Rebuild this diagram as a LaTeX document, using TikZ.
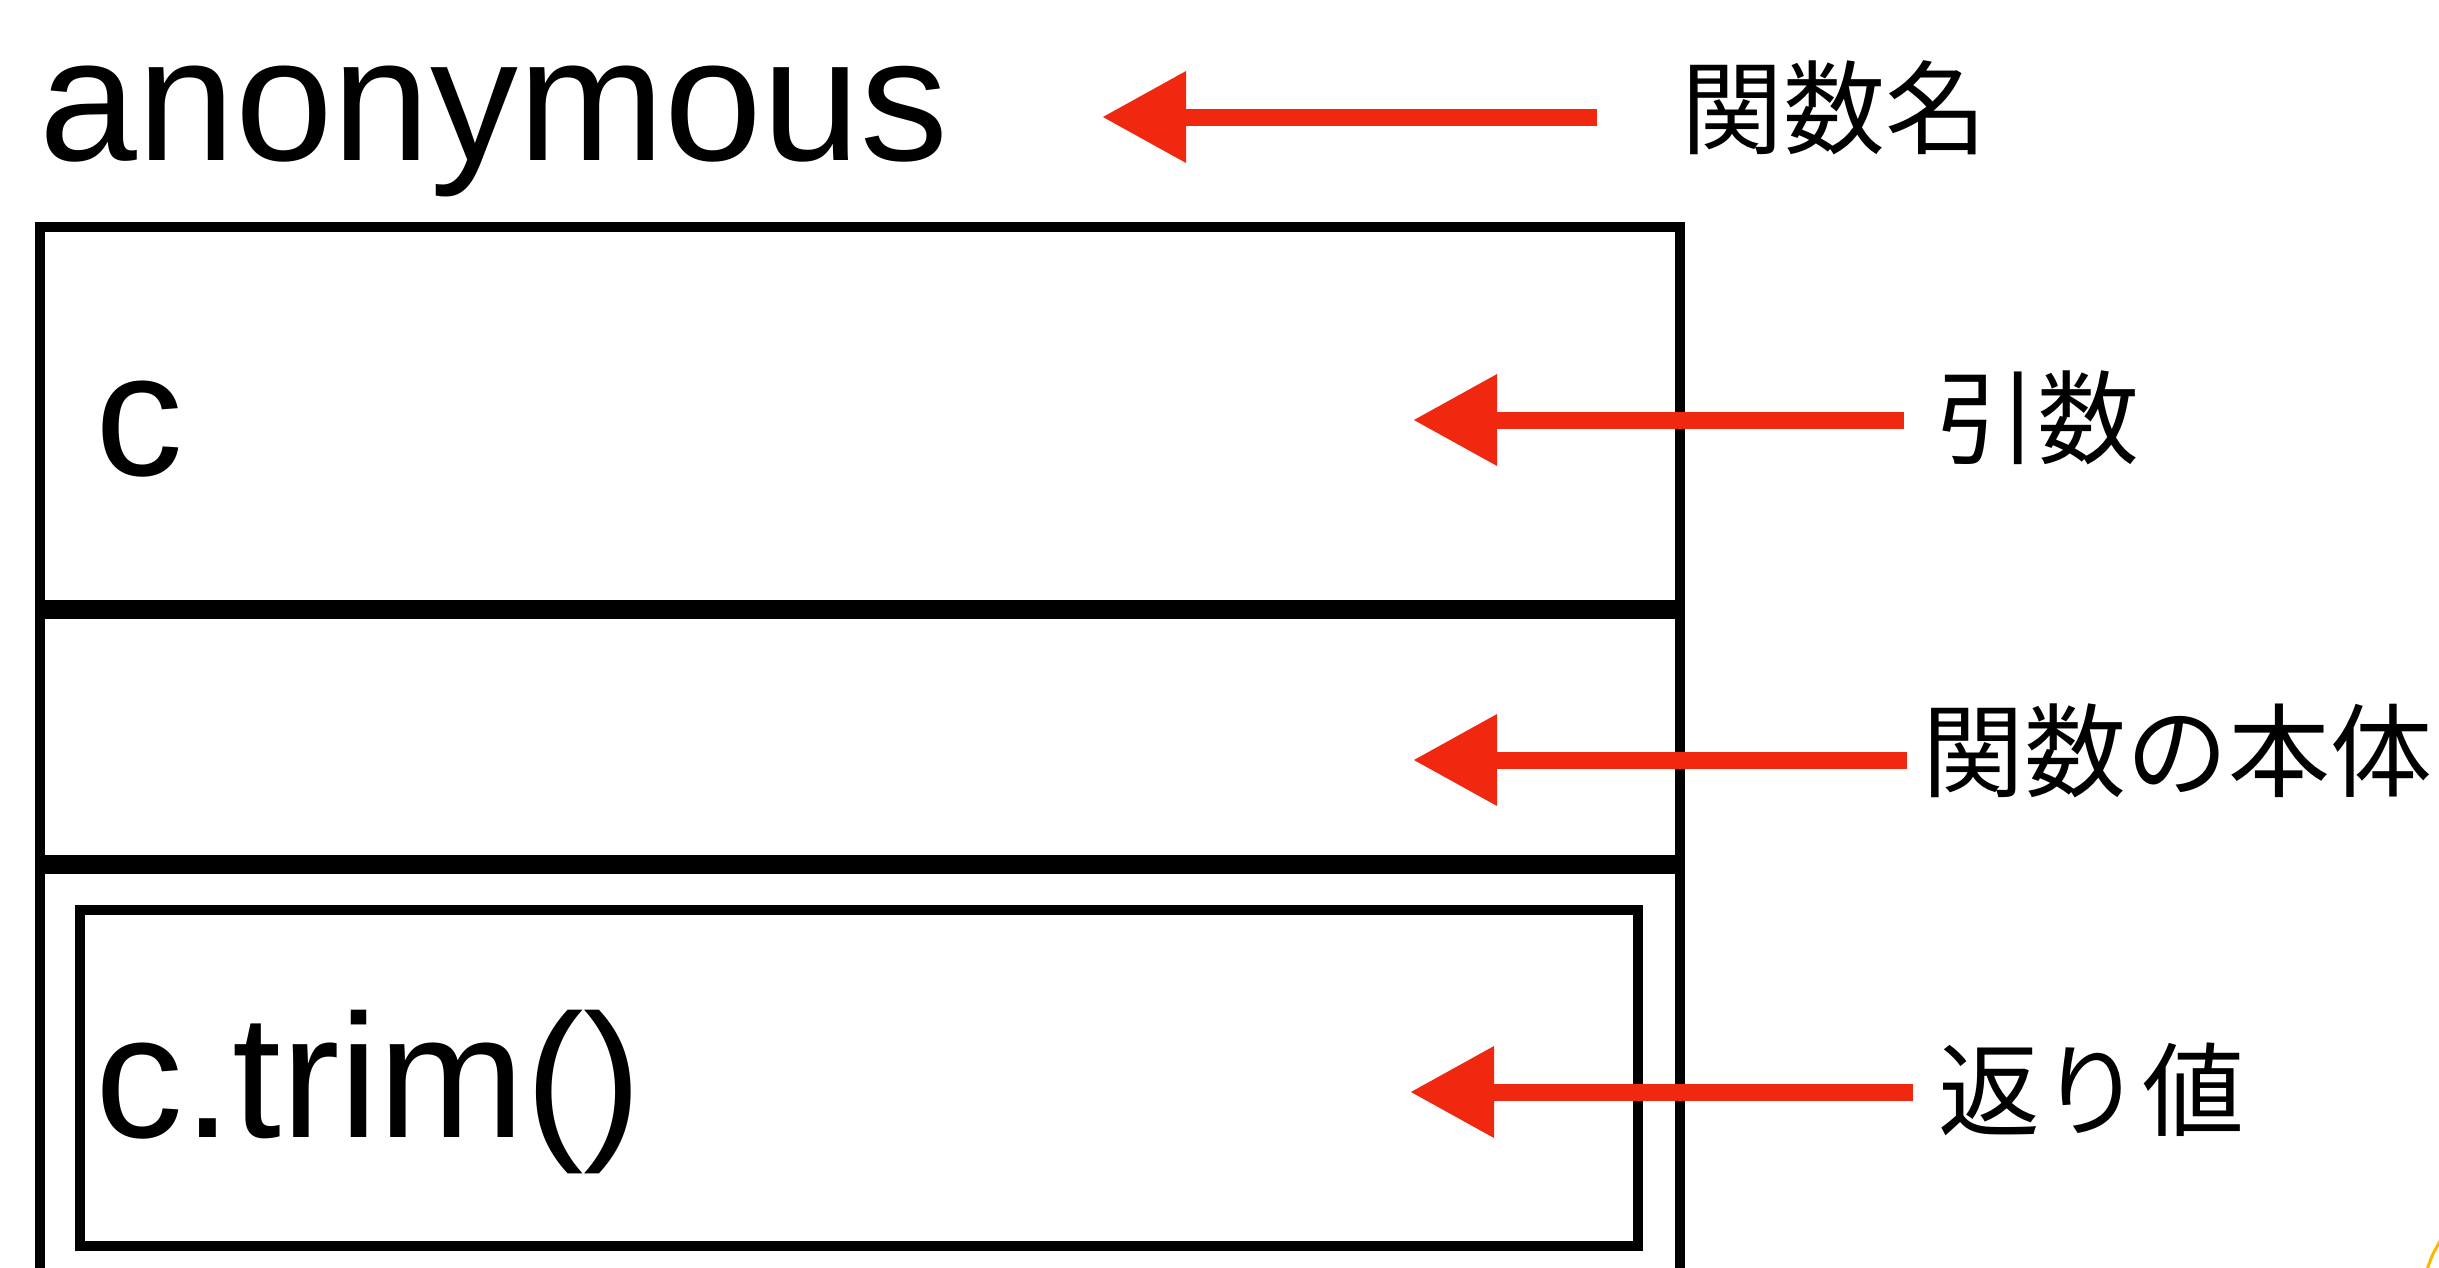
\documentclass[tikz,border=0pt]{standalone}
\usepackage{fontspec}
\setmainfont{Liberation Sans}
\newfontfamily\jpfont{Noto Sans CJK JP}
\usetikzlibrary{arrows.meta,positioning}
\definecolor{arrowred}{RGB}{240,40,16}
\definecolor{markyellow}{RGB}{250,185,0}

\begin{document}
\begin{tikzpicture}[
        codetext/.style={font=\fontsize{50}{60}\selectfont,inner sep=0,anchor=base west},
        jptag/.style={font=\jpfont\fontsize{29}{34}\selectfont,inner sep=0,anchor=west},
        ptr/.style={draw=arrowred,line width=.17cm,-{Triangle[length=.84cm,width=.87cm]}}
    ]
            \useasboundingbox (0,0) rectangle (24.39,-12.67);
            \clip (0,0) rectangle (24.39,-12.67);
            % frame of the function
            \draw[line width=.1cm,line join=miter] (.40,-13) -- (.40,-2.27) -- (16.80,-2.27) -- (16.80,-13);
            \draw[line width=.19cm] (.40,-6.09) -- (16.80,-6.09);
            \draw[line width=.19cm] (.40,-8.64) -- (16.80,-8.64);
            \draw[line width=.1cm] (.795,-9.095) rectangle (16.375,-12.455);
            % texts
            \node[codetext] at (.39,-1.60)(fname){anonymous};
            \node[codetext] at (.95,-4.75)(param){c};
            \node[codetext] at (.95,-11.37)(ret){c.trim()};
            \node[jptag] at (16.81,-1.08)(nameTag){関数名};
            \node[jptag] at (19.35,-4.18)(paramTag){引数};
            \node[jptag] at (19.22,-7.51)(bodyTag){関数の本体};
            \node[jptag] at (19.38,-10.90)(retTag){返り値};
            % arrows
            \coordinate (nameTip) at (11.02,-1.17);
            \coordinate (paramTip) at (14.13,-4.20);
            \coordinate (bodyTip) at (14.13,-7.60);
            \coordinate (retTip) at (14.10,-10.92);
            \draw[ptr,shorten <=.84cm] (nameTip -| nameTag.west) -- (nameTip);
            \draw[ptr,shorten <=.31cm] (paramTip -| paramTag.west) -- (paramTip);
            \draw[ptr,shorten <=.15cm] (bodyTip -| bodyTag.west) -- (bodyTip);
            \draw[ptr,shorten <=.25cm] (retTip -| retTag.west) -- (retTip);
            %\draw[dashed] (0,0) rectangle (24.39,-12.67);
            \draw[markyellow,line width=.03cm] (24.27,-12.70) .. controls (24.32,-12.55) .. (24.42,-12.38);
\end{tikzpicture}
\end{document}
